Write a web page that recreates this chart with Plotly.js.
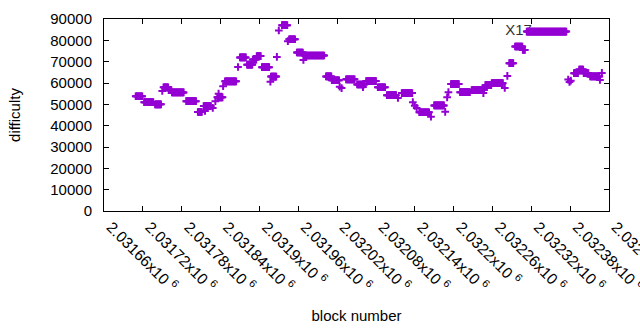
<!DOCTYPE html>
<html>
<head>
<meta charset="utf-8">
<script src="https://cdn.plot.ly/plotly-3.0.1.min.js"></script>
<style>html,body{margin:0;padding:0;background:#fff;}#chart{width:640px;height:330px;}</style>
</head>
<body>
<div id="chart"></div>
<script>
// Runs of constant difficulty: first block, last block, difficulty
var runStart = [2031709,2031722,2031739,2031750,2031752,2031760,2031765,2031787,2031805,2031814,2031816,2031828,2031832,2031835,2031837,2031844,2031847,2031867,2031870,2031881,2031890,2031896,2031904,2031917,2031918,2031927,2031930,2031935,2031944,2031946,2031958,2031968,2031970,2032003,2032012,2032024,2032027,2032034,2032051,2032060,2032065,2032083,2032097,2032114,2032120,2032137,2032140,2032143,2032147,2032165,2032170,2032187,2032190,2032192,2032196,2032210,2032228,2032246,2032249,2032259,2032279,2032283,2032286,2032295,2032307,2032313,2032377,2032379,2032381,2032386,2032394,2032401,2032411,2032426,2032429];
var runEnd   = [2031719,2031736,2031748,2031750,2031759,2031764,2031783,2031802,2031811,2031825,2031816,2031828,2031832,2031843,2031837,2031844,2031864,2031867,2031879,2031889,2031895,2031902,2031915,2031917,2031926,2031927,2031930,2031943,2031944,2031955,2031967,2031968,2032000,2032011,2032023,2032024,2032027,2032047,2032062,2032060,2032080,2032094,2032111,2032114,2032136,2032137,2032140,2032143,2032162,2032165,2032185,2032187,2032190,2032192,2032208,2032225,2032247,2032246,2032258,2032276,2032279,2032283,2032292,2032306,2032310,2032374,2032377,2032379,2032381,2032392,2032400,2032408,2032425,2032426,2032429];
var runDifficulty = [53800,51000,50000,56300,58000,56600,55600,51500,46400,49200,46900,48300,51500,53300,55000,58500,60800,67500,72000,68600,71000,72600,67400,60600,63000,72200,84600,87100,79600,80500,74300,70800,72900,63100,61300,58300,57600,61700,59300,58100,60900,58000,54300,53000,55300,51000,49300,48300,46300,44200,49500,46500,53300,55700,59500,55700,56700,55300,59000,59900,57700,63300,69300,77100,75500,84100,61600,60500,61100,64600,66300,64600,63100,61400,64700];

var xTickVals = [2031660,2031720,2031780,2031840,2031900,2031960,2032020,2032080,2032140,2032200,2032260,2032320,2032380,2032440];
var xTickText = ["2.03166x10 <sup>6</sup>","2.03172x10 <sup>6</sup>","2.03178x10 <sup>6</sup>","2.03184x10 <sup>6</sup>","2.0319x10 <sup>6</sup>","2.03196x10 <sup>6</sup>","2.03202x10 <sup>6</sup>","2.03208x10 <sup>6</sup>","2.03214x10 <sup>6</sup>","2.0322x10 <sup>6</sup>","2.03226x10 <sup>6</sup>","2.03232x10 <sup>6</sup>","2.03238x10 <sup>6</sup>","2.03244x10 <sup>6</sup>"];

var labelText = ["X17"];
var labelBlock = [2032321];
var labelDifficulty = [84100];

var xs = [], ys = [];
for (var i = 0; i < runStart.length; i++) {
  for (var b = runStart[i]; b <= runEnd[i]; b++) { xs.push(b); ys.push(runDifficulty[i]); }
}

var font = "Liberation Sans, Arial, sans-serif";
var traces = [
  {x: labelBlock, y: labelDifficulty, text: labelText, mode: 'text', type: 'scatter',
   textposition: 'middle left', textfont: {family: font, size: 15, color: '#333'}, hoverinfo: 'skip', cliponaxis: false},
  {x: xs, y: ys, mode: 'markers', type: 'scatter',
   marker: {symbol: 'cross-thin', size: 5.5, color: '#9400d3', line: {color: '#9400d3', width: 2}}}
];

var layout = {
  width: 640, height: 330,
  margin: {l: 104, r: 31, t: 19, b: 119},
  paper_bgcolor: '#fff', plot_bgcolor: '#fff',
  showlegend: false,
  font: {family: font, size: 15, color: '#000'},
  xaxis: {
    range: [2031660, 2032440], tickvals: xTickVals, ticktext: xTickText, tickangle: 45,
    ticks: 'inside', ticklen: 5, tickcolor: '#000', mirror: 'ticks', showline: true, linecolor: '#000', linewidth: 1,
    showgrid: false, zeroline: false, tickfont: {family: font, size: 15.5, color: '#000'},
    ticklabelshift: 7, ticklabeloverflow: 'allow',
    title: {text: 'block number', font: {family: font, size: 15, color: '#000'}, standoff: 16}
  },
  yaxis: {
    range: [0, 90000], dtick: 10000, tickformat: 'd',
    ticks: 'inside', ticklen: 5, tickcolor: '#000', mirror: 'ticks', showline: true, linecolor: '#000', linewidth: 1,
    showgrid: false, zeroline: false, tickfont: {family: font, size: 15, color: '#000'}, ticklabelstandoff: 8,
    title: {text: 'difficulty', font: {family: font, size: 15, color: '#000'}, standoff: 26}
  }
};

Plotly.newPlot('chart', traces, layout, {staticPlot: true, displayModeBar: false});
</script>
</body>
</html>
